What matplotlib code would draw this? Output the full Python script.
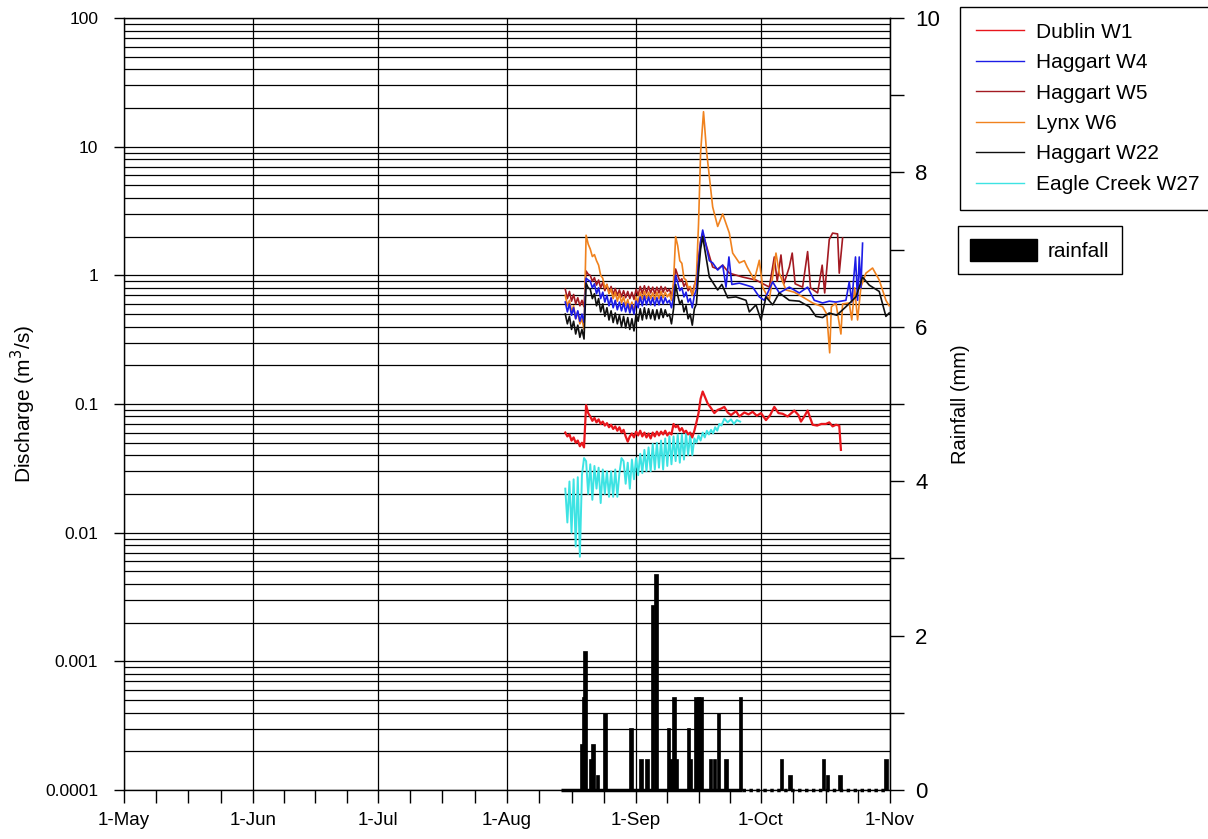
import numpy as np
import matplotlib
matplotlib.use("Agg")
import matplotlib.pyplot as plt
from matplotlib.patches import Patch
from matplotlib.lines import Line2D

plt.rcParams['font.family'] = ['Liberation Sans', 'DejaVu Sans']

# time in days from 1-Sep (negative = August)
month_pos = [-123, -92, -62, -31, 0, 30, 61]
month_labels = ['1-May', '1-Jun', '1-Jul', '1-Aug', '1-Sep', '1-Oct', '1-Nov']

# half-day readings, 14-Aug to 16-Sep
days_early = np.arange(-17, 16, 0.5)

w1_early = [0.060, 0.056, 0.058, 0.052, 0.055, 0.050, 0.052, 0.047, 0.050, 0.046,
            0.098, 0.085, 0.080, 0.074, 0.078, 0.072, 0.076, 0.070, 0.073, 0.068,
            0.071, 0.066, 0.069, 0.064, 0.067, 0.062, 0.066, 0.060, 0.063, 0.056,
            0.051, 0.056, 0.059, 0.055,
            0.061, 0.057, 0.062, 0.056, 0.060, 0.055, 0.059, 0.054, 0.060, 0.056,
            0.061, 0.057, 0.061, 0.058, 0.062, 0.057, 0.060, 0.058, 0.070, 0.066,
            0.068, 0.062, 0.065, 0.060, 0.062, 0.058, 0.060, 0.055, 0.062, 0.072,
            0.085, 0.110]
w1_days_late = [16.0, 17.2, 18.0, 18.8, 19.6, 20.4, 21.2, 22.0, 22.8, 24.0, 24.8, 26.0,
                27.0, 28.0, 29.0, 30.0, 31.2, 32.2, 33.2, 34.2, 35.2, 36.4, 38.0, 39.0,
                39.6, 40.4, 41.2, 42.4, 43.5, 44.5, 45.6, 46.4, 47.2, 48.0, 48.8, 49.2]
w1_late = [0.125, 0.101, 0.093, 0.085, 0.090, 0.092, 0.095, 0.086, 0.082, 0.088, 0.080, 0.086,
           0.083, 0.087, 0.081, 0.085, 0.075, 0.082, 0.095, 0.085, 0.084, 0.080, 0.089, 0.082,
           0.073, 0.080, 0.089, 0.069, 0.068, 0.070, 0.070, 0.072, 0.067, 0.069, 0.068, 0.044]

w4_early = [0.62, 0.52, 0.60, 0.49, 0.56, 0.46, 0.53, 0.44, 0.50, 0.43,
            0.95, 0.92, 0.90, 0.80, 0.86, 0.72, 0.80, 0.66, 0.74, 0.62,
            0.70, 0.58, 0.67, 0.56, 0.64, 0.54, 0.62, 0.53, 0.61, 0.52,
            0.60, 0.51, 0.59, 0.50,
            0.63, 0.56, 0.68, 0.58, 0.69, 0.59, 0.68, 0.59, 0.67, 0.58,
            0.67, 0.59, 0.68, 0.60, 0.67, 0.61, 0.64, 0.56, 0.68, 1.00,
            0.88, 0.76, 0.80, 0.68, 0.74, 0.62, 0.66, 0.56, 0.70, 0.78,
            1.25, 1.80]
w4_days_late = [16.0, 17.6, 18.4, 19.6, 20.8, 21.6, 22.3, 23.0, 24.8, 26.4, 28.0, 29.6,
                30.8, 32.8, 34.4, 36.8, 39.2, 41.2, 42.8, 44.8, 46.4, 48.0, 50.4, 51.2,
                51.8, 52.7, 53.2, 53.6, 54.0, 54.4]
w4_late = [2.25, 1.30, 1.25, 1.10, 1.20, 0.81, 1.39, 0.85, 0.87, 0.84, 0.81, 0.68,
           0.64, 0.89, 0.73, 0.81, 0.73, 0.81, 0.64, 0.61, 0.63, 0.62, 0.64, 0.89,
           0.62, 1.39, 0.64, 1.39, 0.80, 1.78]

w5_early = [0.78, 0.66, 0.75, 0.63, 0.71, 0.60, 0.67, 0.58, 0.64, 0.57,
            1.08, 1.02, 1.00, 0.90, 0.96, 0.84, 0.92, 0.80, 0.88, 0.76,
            0.85, 0.73, 0.82, 0.71, 0.79, 0.70, 0.77, 0.68, 0.76, 0.67,
            0.75, 0.66, 0.74, 0.65,
            0.78, 0.70, 0.82, 0.72, 0.83, 0.73, 0.82, 0.73, 0.81, 0.72,
            0.81, 0.73, 0.82, 0.74, 0.81, 0.75, 0.78, 0.70, 0.82, 1.12,
            1.00, 0.90, 0.94, 0.82, 0.88, 0.76, 0.80, 0.70, 0.84, 0.92,
            1.35, 1.85]
w5_days_late = [16.0, 18.4, 19.6, 20.8, 22.4, 25.6, 28.8, 32.0, 33.2, 33.9, 34.8, 35.5,
                36.8, 37.5, 38.2, 40.0, 41.2, 41.9, 43.6, 44.7, 45.3, 46.4, 47.2, 48.4,
                48.8, 49.6]
w5_late = [2.13, 1.16, 1.12, 1.20, 1.04, 0.97, 0.92, 0.81, 1.39, 0.90, 1.44, 0.86,
           1.16, 1.49, 0.86, 0.81, 1.53, 0.80, 0.73, 1.20, 0.73, 1.90, 2.13, 2.10,
           1.04, 1.95]

w6_early = [0.70, 0.58, 0.64, 0.52, 0.58, 0.46, 0.52, 0.42, 0.46, 0.38,
            2.05, 1.75, 1.60, 1.40, 1.45, 1.30, 1.20, 1.00, 0.95, 0.80,
            0.85, 0.72, 0.78, 0.66, 0.74, 0.63, 0.72, 0.61, 0.68, 0.58,
            0.65, 0.55, 0.62, 0.52,
            0.68, 0.62, 0.74, 0.65, 0.75, 0.66, 0.74, 0.66, 0.73, 0.65,
            0.74, 0.66, 0.75, 0.67, 0.74, 0.68, 0.72, 0.64, 0.90, 2.00,
            1.70, 1.30, 1.24, 0.95, 0.92, 0.80, 0.82, 0.70, 0.80, 1.00,
            2.50, 9.00]
w6_days_late = [16.2, 16.9, 18.4, 19.6, 20.8, 22.4, 23.2, 24.8, 26.0, 26.7, 28.4, 29.6,
                30.4, 32.0, 33.6, 34.4, 36.0, 38.0, 40.0, 42.4, 44.8, 45.8, 46.5, 46.9,
                48.0, 49.2, 49.6, 51.2, 51.8, 52.5, 53.2, 54.0, 55.2, 56.8, 58.4, 60.0, 60.8]
w6_late = [18.7, 9.4, 3.4, 2.4, 3.0, 2.13, 1.49, 1.25, 1.30, 1.16, 0.92, 1.31,
           0.81, 0.64, 1.49, 1.04, 0.77, 0.74, 0.68, 0.61, 0.57, 0.50, 0.25, 0.57,
           0.61, 0.35, 0.60, 0.61, 0.45, 0.80, 0.45, 0.81, 1.04, 1.14, 0.92, 0.64, 0.58]

w22_early = [0.50, 0.42, 0.48, 0.38, 0.44, 0.35, 0.41, 0.33, 0.38, 0.32,
             0.87, 0.80, 0.78, 0.66, 0.72, 0.58, 0.66, 0.52, 0.60, 0.48,
             0.56, 0.45, 0.53, 0.43, 0.51, 0.42, 0.49, 0.40, 0.48, 0.39,
             0.47, 0.38, 0.46, 0.37,
             0.50, 0.44, 0.55, 0.45, 0.56, 0.46, 0.55, 0.46, 0.54, 0.45,
             0.54, 0.46, 0.55, 0.47, 0.54, 0.48, 0.50, 0.42, 0.55, 0.85,
             0.70, 0.60, 0.64, 0.52, 0.58, 0.46, 0.50, 0.41, 0.55, 0.60,
             1.05, 1.60]
w22_days_late = [16.0, 17.6, 19.6, 20.6, 22.0, 24.0, 26.4, 27.2, 28.8, 30.0, 31.2, 32.8,
                 34.4, 36.8, 39.2, 41.6, 43.2, 44.8, 46.4, 48.2, 50.4, 52.8, 54.4, 56.0,
                 58.4, 60.0, 60.8]
w22_late = [2.00, 0.97, 0.77, 0.85, 0.67, 0.68, 0.64, 0.52, 0.59, 0.45, 0.68, 0.59,
            0.73, 0.64, 0.63, 0.57, 0.48, 0.47, 0.51, 0.49, 0.57, 0.68, 0.97, 0.84,
            0.75, 0.48, 0.51]

w27_early = [0.022, 0.012, 0.025, 0.010, 0.026, 0.0078, 0.027, 0.0065, 0.028, 0.038,
             0.036, 0.020, 0.034, 0.018, 0.033, 0.022, 0.032, 0.017, 0.031, 0.020,
             0.030, 0.019, 0.030, 0.019, 0.031, 0.019, 0.029, 0.038, 0.036, 0.024,
             0.035, 0.022, 0.037, 0.026,
             0.038, 0.028, 0.041, 0.029, 0.044, 0.030, 0.046, 0.030, 0.049, 0.031,
             0.050, 0.032, 0.052, 0.031, 0.054, 0.033, 0.056, 0.034, 0.056, 0.036,
             0.058, 0.035, 0.058, 0.037, 0.059, 0.040, 0.058, 0.040, 0.054, 0.050,
             0.057, 0.052]
w27_days_late = [16.0, 16.5, 17.0, 17.5, 18.0, 18.5, 19.0, 19.5, 20.0, 20.5, 21.2, 22.0,
                 22.8, 23.5, 24.2, 25.0]
w27_late = [0.060, 0.055, 0.062, 0.058, 0.063, 0.059, 0.066, 0.062, 0.070, 0.068, 0.077, 0.072,
            0.076, 0.070, 0.075, 0.073]

# rainfall (mm)
rain_days = [-12.97, -12.66, -12.26, -10.8, -10.33, -9.2, -7.45, -1.2, 1.2, 2.64, 4.0, 4.8,
             7.84, 8.4, 9.1, 9.6, 12.65, 12.97, 14.4, 15.0, 15.6, 17.8, 18.8, 19.8, 21.6,
             25.05, 35.0, 37.0, 45.0, 46.0, 49.0, 60.05]
rain_mm = [0.6, 1.2, 1.8, 0.4, 0.6, 0.2, 1.0, 0.8, 0.4, 0.4, 2.4, 2.8,
           0.8, 0.4, 1.2, 0.4, 0.8, 0.4, 1.2, 1.2, 1.2, 0.4, 0.4, 1.0, 0.4,
           1.2, 0.4, 0.2, 0.4, 0.2, 0.2, 0.4]
rain_start, rain_solid_end, rain_end = -18, 25.5, 60

series = [
    ('Dublin W1', w1_early, w1_days_late, w1_late, '#e8161c', 1.6, 3),
    ('Haggart W4', w4_early, w4_days_late, w4_late, '#1c1ce6', 1.2, 4),
    ('Haggart W5', w5_early, w5_days_late, w5_late, '#a31a22', 1.2, 2),
    ('Lynx W6', w6_early, w6_days_late, w6_late, '#f0821e', 1.2, 3),
    ('Haggart W22', w22_early, w22_days_late, w22_late, '#101010', 1.2, 5),
    ('Eagle Creek W27', w27_early, w27_days_late, w27_late, '#3de3e3', 1.4, 2),
]

fig = plt.figure(figsize=(12.08, 8.39), dpi=100)
ax = fig.add_axes([0.1026, 0.0584, 0.6342, 0.9201])

handles = []
for name, early, d_late, late, col, lw, z in series:
    x = np.concatenate([days_early, d_late])
    y = np.concatenate([early, late])
    ax.plot(x, y, color=col, lw=lw, zorder=z)
    handles.append(Line2D([], [], color=col, lw=1.0, label=name))

ax.set_yscale('log')
ax.set_ylim(1e-4, 100)
ax.set_xlim(month_pos[0], month_pos[-1])
ax.set_yticks([1e-4, 1e-3, 1e-2, 1e-1, 1, 10, 100])
ax.set_yticklabels(['0.0001', '0.001', '0.01', '0.1', '1', '10', '100'], fontsize=12.5)
ax.set_xticks(month_pos)
ax.set_xticklabels(month_labels, fontsize=13.5)
minor_x = []
for a, b in zip(month_pos[:-1], month_pos[1:]):
    minor_x += list(np.linspace(a, b, 5)[1:-1])
ax.set_xticks(minor_x, minor=True)
ax.tick_params(axis='x', which='both', direction='out', length=9, width=1, pad=7)
ax.tick_params(axis='y', which='major', direction='out', length=7.5, width=1, pad=11)
ax.tick_params(axis='y', which='minor', length=0)
ax.grid(which='major', axis='both', color='black', lw=0.9)
ax.grid(which='minor', axis='y', color='black', lw=0.9)
ax.set_ylabel('Discharge (m$^3$/s)', fontsize=15, labelpad=5)
for s in ax.spines.values():
    s.set_linewidth(1.0)

ax2 = ax.twinx()
ax2.bar(rain_days, rain_mm, width=0.8, color='black', edgecolor='black', lw=0.5, zorder=3)
ax2.hlines(0, rain_start, rain_solid_end, color='black', lw=2.5, clip_on=False)
ax2.hlines(0, rain_solid_end, rain_end, color='black', lw=2.5, linestyles=(0, (1, 1)), clip_on=False)
ax2.set_ylim(0, 10)
ax2.set_yticks(range(0, 11, 2))
ax2.set_yticks(range(1, 10, 2), minor=True)
ax2.tick_params(axis='y', which='both', direction='out', length=10, width=1, labelsize=16, pad=8)
ax2.set_ylabel('Rainfall (mm)', fontsize=14.5, labelpad=8)
ax2.spines['top'].set_visible(False)
ax2.spines['left'].set_visible(False)
ax2.spines['bottom'].set_visible(False)

leg1 = fig.legend(handles=handles, loc='upper left', bbox_to_anchor=(0.7947, 0.9917),
                  borderaxespad=0, fontsize=15, frameon=True, fancybox=False,
                  edgecolor='black', framealpha=1, handlelength=2.3, labelspacing=0.55,
                  borderpad=0.75, handletextpad=0.6)
leg1.get_frame().set_linewidth(1.0)
leg2 = fig.legend(handles=[Patch(facecolor='black', edgecolor='black', label='rainfall')],
                  loc='upper left', bbox_to_anchor=(0.793, 0.7306), borderaxespad=0,
                  fontsize=15, frameon=True, fancybox=False, edgecolor='black',
                  framealpha=1, handlelength=3.2, handleheight=1.3, borderpad=0.6,
                  handletextpad=0.5)
leg2.get_frame().set_linewidth(1.0)

fig.savefig('out.png', dpi=100)
